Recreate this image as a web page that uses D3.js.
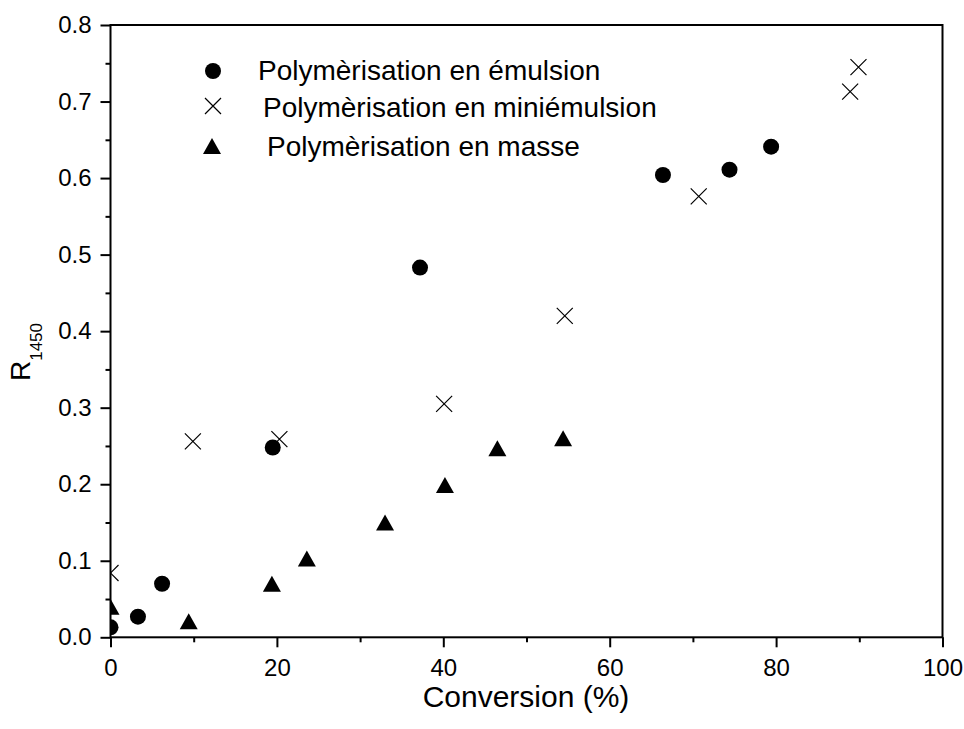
<!DOCTYPE html>
<html><head><meta charset="utf-8">
<script src="https://cdn.jsdelivr.net/npm/d3@7"></script>
<style>body{margin:0;background:#fff}svg{display:block}</style>
</head><body>
<svg id="c" width="964" height="729"></svg>
<script>
// Data
const emulsionX = [0, 3.3, 6.2, 19.5, 37.2, 66.4, 74.4, 79.4];
const emulsionY = [0.013, 0.027, 0.070, 0.248, 0.483, 0.604, 0.611, 0.641];
const miniX = [0, 9.9, 20.3, 40.1, 54.6, 70.7, 88.9, 89.9];
const miniY = [0.084, 0.256, 0.259, 0.305, 0.420, 0.576, 0.713, 0.745];
const masseX = [0, 9.4, 19.4, 23.6, 33.0, 40.2, 46.5, 54.4];
const masseY = [0.040, 0.021, 0.070, 0.103, 0.150, 0.199, 0.247, 0.260];
const xTicks = [0, 20, 40, 60, 80, 100];
const xMinorTicks = [10, 30, 50, 70, 90];
const yTicks = [0.0, 0.1, 0.2, 0.3, 0.4, 0.5, 0.6, 0.7, 0.8];
const yMinorTicks = [0.05, 0.15, 0.25, 0.35, 0.45, 0.55, 0.65, 0.75];
const legendLabels = ["Polymèrisation en émulsion", "Polymèrisation en miniémulsion", "Polymèrisation en masse"];
const xTitle = "Conversion (%)";

const svg = d3.select("#c");
const L = 110.5, R = 942.5, T = 25, B = 637.3;
const font = "'Liberation Sans', Arial, sans-serif";
const x = d3.scaleLinear().domain([0, 100]).range([L, R]);
const y = d3.scaleLinear().domain([0, 0.8]).range([B, T]);

svg.append("defs").append("clipPath").attr("id", "clip")
  .append("rect").attr("x", L).attr("y", T).attr("width", R - L).attr("height", B - T);

const sw = 2;
// x axis
svg.append("g").attr("transform", `translate(0,${B})`)
  .call(d3.axisBottom(x).tickValues(xTicks).tickSize(10).tickPadding(12).tickFormat(d3.format("d")));
svg.append("g").attr("transform", `translate(0,${B})`)
  .call(d3.axisBottom(x).tickValues(xMinorTicks).tickSize(5).tickFormat(""));
// y axis
svg.append("g").attr("transform", `translate(${L},0)`)
  .call(d3.axisLeft(y).tickValues(yTicks).tickSize(10).tickPadding(9).tickFormat(d3.format(".1f")));
svg.append("g").attr("transform", `translate(${L},0)`)
  .call(d3.axisLeft(y).tickValues(yMinorTicks).tickSize(5).tickFormat(""));

svg.selectAll(".domain").remove();
svg.selectAll(".tick line").attr("stroke", "#000").attr("stroke-width", sw);
svg.selectAll(".tick text").attr("font-family", font).attr("font-size", 24).attr("fill", "#000");

// frame
svg.append("rect").attr("x", L).attr("y", T).attr("width", R - L).attr("height", B - T)
  .attr("fill", "none").attr("stroke", "#000").attr("stroke-width", sw);

// markers
const plot = svg.append("g").attr("clip-path", "url(#clip)");
const tri = "M0,-8L9,8L-9,8Z";
const cross = "M-8,-8L8,8M-8,8L8,-8";

plot.selectAll(".em").data(emulsionX.map((d, i) => [d, emulsionY[i]])).join("circle")
  .attr("cx", d => x(d[0])).attr("cy", d => y(d[1])).attr("r", 8).attr("fill", "#000");
plot.selectAll(".mi").data(miniX.map((d, i) => [d, miniY[i]])).join("path")
  .attr("transform", d => `translate(${x(d[0])},${y(d[1])})`).attr("d", cross)
  .attr("stroke", "#000").attr("stroke-width", 1.2).attr("fill", "none");
plot.selectAll(".ma").data(masseX.map((d, i) => [d, masseY[i]])).join("path")
  .attr("transform", d => `translate(${x(d[0])},${y(d[1])})`).attr("d", tri).attr("fill", "#000");

// legend
const leg = svg.append("g");
const legRows = [
  {mx: 213, my: 71, tx: 258, ty: 80},
  {mx: 213, my: 106, tx: 263, ty: 117},
  {mx: 212, my: 146, tx: 267, ty: 156}
];
leg.append("circle").attr("cx", legRows[0].mx).attr("cy", legRows[0].my).attr("r", 8).attr("fill", "#000");
leg.append("path").attr("transform", `translate(${legRows[1].mx},${legRows[1].my})`).attr("d", cross)
  .attr("stroke", "#000").attr("stroke-width", 1.2).attr("fill", "none");
leg.append("path").attr("transform", `translate(${legRows[2].mx},${legRows[2].my})`).attr("d", tri).attr("fill", "#000");
legendLabels.forEach((t, i) => {
  leg.append("text").attr("x", legRows[i].tx).attr("y", legRows[i].ty)
    .attr("font-family", font).attr("font-size", 28).attr("fill", "#000").text(t);
});

// axis titles
svg.append("text").attr("x", 526).attr("y", 707).attr("text-anchor", "middle")
  .attr("font-family", font).attr("font-size", 30).attr("fill", "#000").text(xTitle);
const yt = svg.append("text").attr("transform", "translate(30,352) rotate(-90)").attr("text-anchor", "middle")
  .attr("font-family", font).attr("font-size", 28).attr("fill", "#000");
yt.append("tspan").text("R");
yt.append("tspan").attr("font-size", 17).attr("dy", 12).text("1450");
</script>
</body></html>
